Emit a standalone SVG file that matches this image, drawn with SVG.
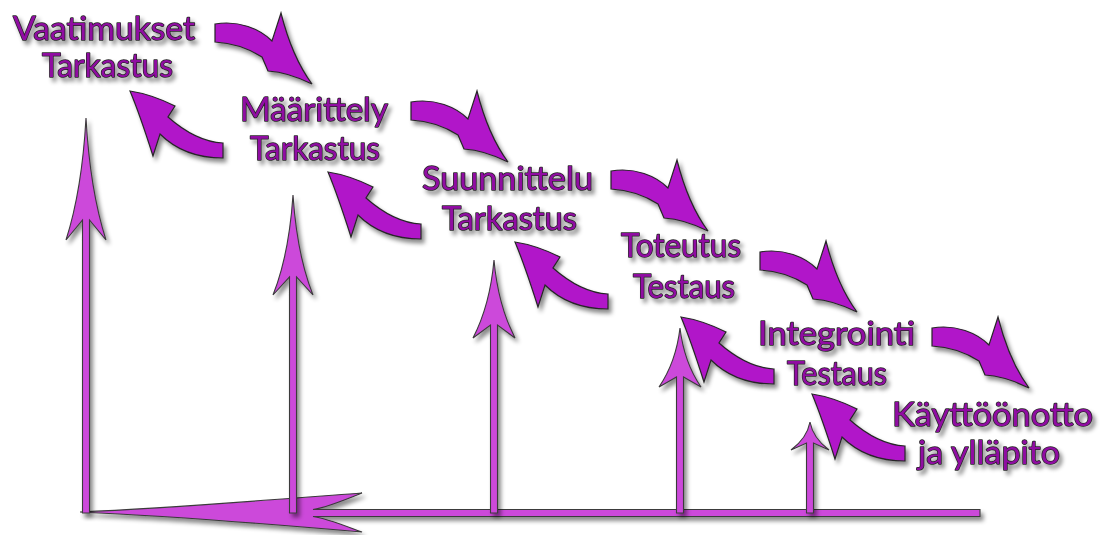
<svg xmlns="http://www.w3.org/2000/svg" xmlns:xlink="http://www.w3.org/1999/xlink" width="1112" height="535" viewBox="0 0 1112 535">
  <defs>
    <filter id="shadow" x="-20%" y="-20%" width="150%" height="150%">
      <feDropShadow dx="3" dy="4" stdDeviation="2.2" flood-color="#000" flood-opacity="0.45"/>
    </filter>
    <!-- curved arrow running down-right, tail centred on the origin -->
    <path id="fwd" d="M 0,-9 C 24,-13 45,-4 57,8 L 66,-20 C 73,8 83,32 97,51 C 83,44 68,39 53,38 L 47,24 C 33,15 18,10 0,9 Z"/>
    <!-- curved arrow running back up-left, tail centred on the origin -->
    <path id="back" d="M 0,-7 C -20,-8 -38,-18 -55,-33 L -48,-44 C -64,-52 -80,-57 -93,-59 C -85,-40 -77,-16 -70,6 L -63,-16 C -46,1 -24,8 0,8 Z"/>
  </defs>
  <style>
    .label { font-family: Lato, "Open Sans", "DejaVu Sans", sans-serif; font-size: 33px; font-weight: 400; fill: #900ca2; stroke: #262626; stroke-width: 1.5px; paint-order: stroke; stroke-linejoin: round; filter: url(#shadow); }
    .curve { fill: #b118c9; stroke: #262626; stroke-width: 1.2px; stroke-linejoin: miter; filter: url(#shadow); }
    .stem { fill: #cc48da; stroke: #3a3a3a; stroke-width: 1.1px; stroke-linejoin: miter; filter: url(#shadow); }
  </style>
  <rect width="1112" height="535" fill="#ffffff"/>

  <g id="connectors">
    <!-- feedback return along the base line -->
    <path class="stem" d="M 80,512 C 170,508 270,500 362,493 C 340,502 325,508 313,509.5 L 980,509.5 L 980,516.5 L 313,516.5 C 325,518 340,524 362,532 C 270,524 170,516 80,512 Z"/>
    <!-- vertical verification arrows -->
    <path class="stem" d="M 86,118 Q 90,190 106,240 L 89.5,220 L 89.5,513 L 82.5,513 L 82.5,220 L 66,240 Q 82,190 86,118 Z"/>
    <path class="stem" d="M 293,195 Q 297,255 313,295 L 296.5,277 L 296.5,513 L 289.5,513 L 289.5,277 L 273,295 Q 289,255 293,195 Z"/>
    <path class="stem" d="M 494,260 Q 498,305 515,338 L 497.5,325 L 497.5,513 L 490.5,513 L 490.5,325 L 473,338 Q 490,305 494,260 Z"/>
    <path class="stem" d="M 680,328 Q 684,362 701,387 L 683.5,377 L 683.5,513 L 676.5,513 L 676.5,377 L 659,387 Q 676,362 680,328 Z"/>
    <path class="stem" d="M 810,422 Q 813,438 829,450 L 813.5,443 L 813.5,513 L 806.5,513 L 806.5,443 L 791,450 Q 807,438 810,422 Z"/>

    <!-- forward flow arrows -->
    <use href="#fwd" xlink:href="#fwd" class="curve" transform="translate(215,33)"/>
    <use href="#fwd" xlink:href="#fwd" class="curve" transform="translate(411,111)"/>
    <use href="#fwd" xlink:href="#fwd" class="curve" transform="translate(611,180)"/>
    <use href="#fwd" xlink:href="#fwd" class="curve" transform="translate(760,261)"/>
    <use href="#fwd" xlink:href="#fwd" class="curve" transform="translate(932,337)"/>

    <!-- backward feedback arrows -->
    <use href="#back" xlink:href="#back" class="curve" transform="translate(223,150)"/>
    <use href="#back" xlink:href="#back" class="curve" transform="translate(421,231)"/>
    <use href="#back" xlink:href="#back" class="curve" transform="translate(608,301)"/>
    <use href="#back" xlink:href="#back" class="curve" transform="translate(774,376)"/>
    <use href="#back" xlink:href="#back" class="curve" transform="translate(905,453)"/>
  </g>

  <g id="vaatimukset">
    <text class="label" x="13" y="40" textLength="182" lengthAdjust="spacingAndGlyphs">Vaatimukset</text>
    <text class="label" x="42" y="77" textLength="131" lengthAdjust="spacingAndGlyphs">Tarkastus</text>
  </g>
  <g id="maarittely">
    <text class="label" x="240" y="121" textLength="148" lengthAdjust="spacingAndGlyphs">Määrittely</text>
    <text class="label" x="250" y="160" textLength="130" lengthAdjust="spacingAndGlyphs">Tarkastus</text>
  </g>
  <g id="suunnittelu">
    <text class="label" x="422" y="190" textLength="171" lengthAdjust="spacingAndGlyphs">Suunnittelu</text>
    <text class="label" x="442" y="230" textLength="135" lengthAdjust="spacingAndGlyphs">Tarkastus</text>
  </g>
  <g id="toteutus">
    <text class="label" x="621" y="257" textLength="120" lengthAdjust="spacingAndGlyphs">Toteutus</text>
    <text class="label" x="633" y="298" textLength="102" lengthAdjust="spacingAndGlyphs">Testaus</text>
  </g>
  <g id="integrointi">
    <text class="label" x="758" y="345" textLength="157" lengthAdjust="spacingAndGlyphs">Integrointi</text>
    <text class="label" x="787" y="385" textLength="100" lengthAdjust="spacingAndGlyphs">Testaus</text>
  </g>
  <g id="kayttoonotto">
    <text class="label" x="892" y="426" textLength="201" lengthAdjust="spacingAndGlyphs">Käyttöönotto</text>
    <text class="label" x="918" y="464" textLength="142" lengthAdjust="spacingAndGlyphs">ja ylläpito</text>
  </g>
</svg>
